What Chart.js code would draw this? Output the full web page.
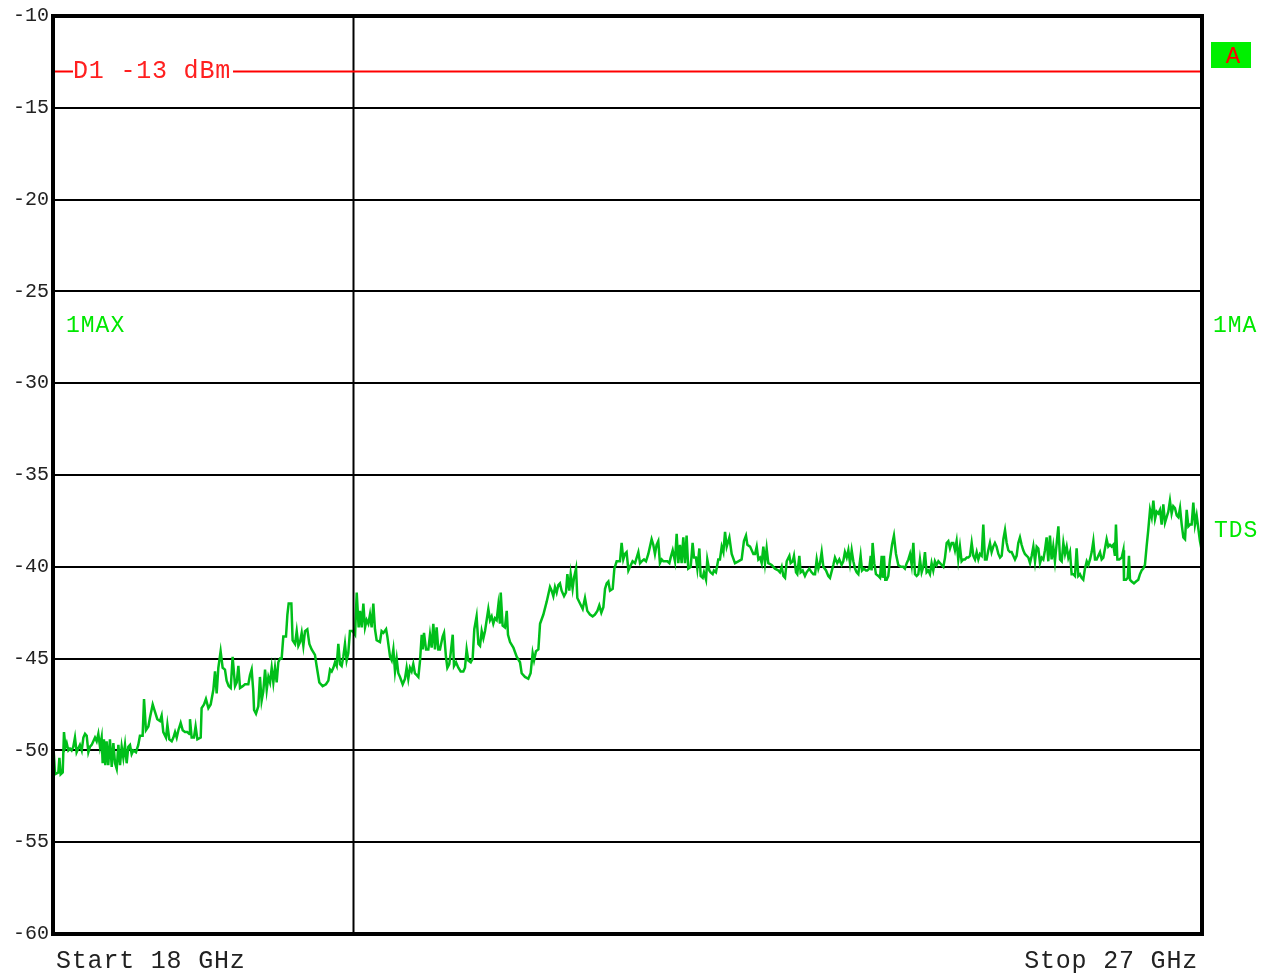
<!DOCTYPE html>
<html>
<head>
<meta charset="utf-8">
<script src="https://cdn.jsdelivr.net/npm/chart.js@4.4.1/dist/chart.umd.min.js"></script>
<style>
  html, body { margin: 0; padding: 0; background: #fff; }
  canvas { display: block; }
</style>
</head>
<body>
<canvas id="spectrum" width="1272" height="977"></canvas>
<script>
// sweep and level settings
const startGHz = 18;
const stopGHz = 27;
const levelTicks = [-60, -55, -50, -45, -40, -35, -30, -25, -20, -15, -10];
const d1Level = -13;
const cursorGHz = 20.35;

// texts on screen
const startLabel = 'Start 18 GHz';
const stopLabel = 'Stop 27 GHz';
const d1Label = 'D1 -13 dBm';
const traceLabelLeft = '1MAX';
const traceLabelRight = '1MA';
const detectorLabel = 'TDS';
const screenLabel = 'A';

// max hold trace (GHz / dBm)
const traceFreq = [
  18.000,18.016,18.042,18.050,18.060,18.076,18.086,18.097,18.107,18.120,
  18.133,18.146,18.159,18.172,18.185,18.198,18.211,18.225,18.238,18.251,
  18.264,18.277,18.290,18.303,18.316,18.329,18.342,18.355,18.368,18.381,
  18.389,18.399,18.410,18.420,18.433,18.446,18.460,18.473,18.486,18.499,
  18.512,18.525,18.538,18.551,18.564,18.577,18.590,18.603,18.616,18.629,
  18.650,18.668,18.681,18.702,18.713,18.728,18.747,18.760,18.781,18.799,
  18.817,18.838,18.851,18.864,18.885,18.896,18.911,18.930,18.943,18.956,
  18.969,18.982,19.000,19.016,19.034,19.052,19.068,19.073,19.086,19.104,
  19.117,19.131,19.157,19.164,19.183,19.198,19.217,19.235,19.256,19.269,
  19.282,19.295,19.313,19.329,19.347,19.360,19.376,19.392,19.407,19.426,
  19.439,19.452,19.465,19.486,19.504,19.530,19.543,19.556,19.569,19.575,
  19.590,19.608,19.621,19.634,19.647,19.661,19.674,19.687,19.700,19.713,
  19.726,19.739,19.752,19.765,19.778,19.791,19.804,19.825,19.836,19.846,
  19.867,19.877,19.896,19.909,19.922,19.935,19.948,19.961,19.974,19.992,
  20.008,20.026,20.052,20.065,20.086,20.112,20.138,20.157,20.170,20.183,
  20.196,20.209,20.222,20.235,20.248,20.261,20.274,20.287,20.300,20.313,
  20.326,20.347,20.366,20.379,20.394,20.405,20.418,20.431,20.444,20.457,
  20.470,20.483,20.496,20.509,20.522,20.535,20.561,20.574,20.588,20.609,
  20.619,20.640,20.653,20.666,20.679,20.692,20.705,20.718,20.739,20.757,
  20.770,20.783,20.796,20.809,20.822,20.835,20.849,20.862,20.875,20.888,
  20.896,20.906,20.922,20.940,20.953,20.966,20.979,20.992,21.005,21.018,
  21.031,21.052,21.063,21.078,21.089,21.104,21.115,21.131,21.141,21.157,
  21.175,21.193,21.214,21.227,21.240,21.253,21.272,21.287,21.300,21.318,
  21.332,21.345,21.358,21.371,21.384,21.397,21.410,21.423,21.436,21.449,
  21.462,21.475,21.488,21.501,21.507,21.522,21.540,21.554,21.564,21.580,
  21.606,21.632,21.658,21.671,21.697,21.723,21.741,21.757,21.768,21.783,
  21.802,21.815,21.841,21.867,21.893,21.906,21.919,21.932,21.945,21.958,
  21.971,21.984,22.003,22.018,22.029,22.044,22.055,22.070,22.081,22.097,
  22.107,22.128,22.149,22.167,22.185,22.206,22.227,22.245,22.264,22.279,
  22.295,22.311,22.324,22.337,22.350,22.363,22.384,22.397,22.415,22.441,
  22.454,22.467,22.480,22.493,22.507,22.520,22.540,22.559,22.585,22.598,
  22.611,22.629,22.645,22.663,22.676,22.689,22.702,22.715,22.728,22.741,
  22.754,22.768,22.781,22.794,22.812,22.828,22.838,22.854,22.872,22.885,
  22.898,22.911,22.924,22.937,22.950,22.963,22.976,22.995,23.010,23.021,
  23.036,23.047,23.063,23.073,23.089,23.099,23.115,23.125,23.141,23.151,
  23.167,23.177,23.193,23.211,23.224,23.238,23.251,23.264,23.277,23.298,
  23.316,23.342,23.368,23.394,23.412,23.428,23.439,23.460,23.486,23.499,
  23.512,23.525,23.538,23.551,23.564,23.577,23.590,23.603,23.629,23.655,
  23.681,23.694,23.708,23.721,23.734,23.747,23.768,23.778,23.794,23.804,
  23.820,23.830,23.846,23.856,23.872,23.890,23.903,23.924,23.942,23.956,
  23.969,23.982,23.995,24.008,24.021,24.034,24.055,24.073,
  24.086,24.112,24.125,24.143,24.159,24.177,24.190,24.203,24.217,24.230,
  24.243,24.256,24.269,24.282,24.295,24.308,24.326,24.337,24.352,24.368,
  24.378,24.394,24.405,24.412,24.420,24.433,24.446,24.465,24.478,24.491,
  24.499,24.509,24.519,24.530,24.543,24.556,24.572,24.587,24.603,24.621,
  24.640,24.660,24.673,24.687,24.700,24.713,24.726,24.739,24.752,24.765,
  24.778,24.791,24.804,24.817,24.830,24.843,24.856,24.869,24.882,24.895,
  24.908,24.921,24.935,24.948,24.961,24.974,24.987,25.000,25.013,25.026,
  25.039,25.052,25.065,25.078,25.091,25.104,25.117,25.130,25.143,25.157,
  25.170,25.183,25.196,25.209,25.222,25.235,25.248,25.261,25.274,25.287,
  25.300,25.313,25.326,25.339,25.352,25.365,25.378,25.391,25.405,25.418,
  25.431,25.444,25.457,25.470,25.483,25.496,25.509,25.522,25.535,25.548,
  25.561,25.574,25.587,25.600,25.613,25.627,25.640,25.653,25.666,25.679,
  25.692,25.705,25.718,25.731,25.744,25.757,25.770,25.783,25.796,25.809,
  25.822,25.835,25.848,25.862,25.875,25.888,25.901,25.914,25.927,25.940,
  25.953,25.966,25.979,25.992,26.005,26.018,26.031,26.044,26.057,26.070,
  26.083,26.097,26.110,26.123,26.136,26.149,26.162,26.175,26.188,26.201,
  26.214,26.227,26.240,26.253,26.266,26.279,26.292,26.305,26.318,26.326,
  26.337,26.352,26.371,26.384,26.389,26.405,26.418,26.428,26.436,26.449,
  26.467,26.483,26.501,26.514,26.527,26.540,26.553,26.566,26.579,26.593,
  26.606,26.619,26.632,26.645,26.658,26.671,26.684,26.697,26.710,26.723,
  26.736,26.749,26.762,26.775,26.788,26.802,26.815,26.828,26.841,26.854,
  26.867,26.880,26.893,26.906,26.919,26.932,26.945,26.958,26.971,26.984,
  27.000
];
const traceLevel = [
  -49.4,-51.3,-51.2,-50.4,-51.3,-51.2,-49.0,-49.8,-49.6,-50.0,
  -49.9,-50.0,-49.8,-49.3,-50.1,-49.9,-49.7,-50.0,-49.3,-49.1,
  -49.2,-50.1,-49.8,-49.7,-49.5,-49.3,-49.5,-49.1,-49.8,-49.3,
  -50.7,-49.4,-50.8,-49.5,-50.8,-49.4,-50.9,-49.6,-50.7,-51.0,
  -49.7,-50.8,-49.8,-50.4,-49.7,-50.7,-49.8,-49.7,-50.2,-50.0,
  -50.1,-49.7,-49.2,-49.2,-47.2,-48.9,-48.7,-48.2,-47.5,-47.9,
  -48.3,-48.4,-48.1,-49.0,-49.3,-48.6,-49.4,-49.5,-49.3,-49.0,
  -49.3,-48.9,-48.5,-48.9,-49.0,-49.0,-49.1,-48.3,-49.3,-49.3,
  -48.7,-49.4,-49.3,-47.7,-47.5,-47.2,-47.7,-47.5,-46.7,-45.7,
  -46.9,-45.5,-44.6,-45.5,-45.6,-46.2,-46.5,-46.6,-44.9,-46.5,
  -46.3,-45.4,-46.6,-46.5,-46.4,-46.4,-45.9,-45.6,-46.8,-47.8,
  -48.0,-47.6,-46.0,-47.3,-46.8,-45.6,-46.7,-46.0,-46.3,-45.5,
  -46.3,-45.5,-46.3,-45.2,-45.0,-45.0,-43.8,-43.8,-42.6,-42.0,
  -42.0,-44.0,-44.2,-43.5,-44.3,-44.1,-43.6,-44.3,-43.5,-43.4,
  -44.2,-44.5,-44.8,-45.4,-46.3,-46.5,-46.4,-46.2,-45.6,-45.7,
  -45.5,-45.2,-45.4,-44.2,-45.3,-45.4,-44.9,-44.2,-45.1,-44.7,
  -43.5,-43.5,-43.7,-41.4,-43.3,-42.4,-43.3,-42.0,-43.3,-42.9,
  -43.1,-42.6,-43.3,-42.0,-43.4,-44.0,-44.1,-43.5,-43.6,-43.4,
  -43.8,-44.9,-45.1,-44.5,-45.7,-45.0,-45.8,-46.0,-46.4,-46.1,
  -45.5,-46.1,-45.5,-45.7,-45.3,-45.8,-45.9,-46.0,-45.1,-43.7,
  -44.5,-43.6,-44.5,-44.5,-43.7,-44.4,-43.1,-44.5,-43.3,-44.5,
  -44.5,-43.8,-43.6,-44.9,-45.5,-45.3,-44.7,-43.7,-45.4,-45.2,
  -45.5,-45.7,-45.7,-45.5,-44.5,-45.1,-45.2,-45.0,-43.4,-42.7,
  -44.2,-44.3,-43.5,-43.9,-43.5,-42.9,-42.3,-42.9,-42.7,-43.1,
  -42.8,-42.9,-42.1,-43.1,-41.4,-43.2,-43.3,-42.4,-43.7,-44.1,
  -44.4,-44.9,-45.2,-45.8,-46.0,-46.1,-45.8,-44.7,-45.1,-44.6,
  -44.5,-43.1,-42.6,-41.9,-41.1,-41.3,-41.6,-41.1,-41.4,-41.0,
  -40.9,-41.3,-41.6,-41.4,-40.4,-41.3,-40.4,-41.2,-40.6,-40.1,
  -41.7,-42.0,-42.3,-41.7,-42.4,-42.6,-42.7,-42.6,-42.4,-42.1,
  -42.5,-42.2,-41.2,-40.9,-40.8,-41.3,-41.2,-40.1,-39.7,-39.7,
  -38.7,-39.6,-39.3,-39.2,-40.2,-40.0,-39.7,-39.8,-39.2,-39.8,
  -39.7,-39.6,-39.7,-39.3,-38.9,-38.5,-38.8,-39.3,-38.8,-38.6,
  -39.8,-39.6,-39.7,-39.7,-39.7,-39.8,-39.5,-39.1,-39.7,-38.2,
  -39.8,-38.8,-39.8,-38.4,-39.8,-38.3,-40.1,-40.0,-38.7,-39.5,
  -39.5,-40.1,-39.0,-40.5,-40.6,-40.3,-40.7,-39.6,-40.2,-40.3,
  -40.4,-40.2,-40.3,-39.6,-39.6,-38.9,-39.2,-38.1,-38.9,-38.4,
  -39.3,-39.8,-39.7,-39.6,-38.6,-38.3,-38.8,-38.9,-39.3,-39.3,
  -38.9,-39.6,-39.5,-39.8,-38.9,-39.8,-39.0,-39.8,-39.9,-40.1,
  -40.2,-40.3,-40.0,-40.5,-40.6,-39.7,-39.4,-39.8,-39.7,-39.4,
  -40.3,-40.4,-39.4,-40.3,-40.2,-40.5,-40.3,-40.1,-40.3,-40.4,
  -40.4,-39.6,-40.1,-39.8,-39.2,-40.0,-40.2,-40.5,
  -40.6,-39.9,-39.5,-39.8,-39.6,-39.9,-39.7,-39.2,-39.5,-39.1,
  -39.8,-39.1,-39.7,-40.1,-40.3,-40.4,-39.4,-40.2,-40.1,-40.2,
  -40.2,-40.1,-39.4,-40.2,-38.7,-39.8,-40.4,-40.5,-40.6,-39.4,
  -40.6,-39.4,-40.7,-40.7,-40.5,-39.6,-38.8,-38.3,-39.3,-39.9,
  -40.0,-40.0,-40.1,-39.8,-39.6,-39.3,-39.9,-38.7,-40.4,-40.5,
  -40.4,-39.6,-40.3,-40.0,-39.2,-40.3,-40.2,-40.4,-39.8,-40.2,
  -39.7,-39.9,-39.7,-39.8,-39.9,-40.0,-39.5,-38.7,-38.6,-39.0,
  -38.7,-38.7,-39.1,-38.6,-39.6,-38.9,-39.7,-39.6,-39.6,-39.5,
  -39.5,-39.4,-38.7,-39.4,-39.6,-39.2,-39.6,-39.3,-39.4,-37.7,
  -39.6,-39.6,-39.1,-38.7,-39.2,-38.9,-38.7,-38.9,-39.3,-39.5,
  -39.4,-38.5,-38.0,-38.7,-39.1,-39.2,-39.2,-39.4,-39.6,-39.4,
  -38.7,-38.4,-38.8,-39.1,-39.3,-39.4,-39.5,-39.8,-39.4,-38.9,
  -39.7,-38.9,-39.0,-39.8,-39.5,-39.6,-39.1,-38.4,-39.7,-38.3,
  -39.6,-38.9,-39.7,-38.7,-37.8,-39.6,-39.7,-38.7,-39.3,-38.9,
  -39.5,-39.2,-40.4,-40.4,-40.5,-39.0,-40.5,-40.4,-40.6,-40.7,
  -40.1,-39.7,-39.9,-39.6,-39.2,-38.6,-39.6,-39.6,-39.4,-39.2,
  -39.6,-39.5,-39.0,-38.5,-38.9,-38.8,-38.9,-38.8,-39.4,-37.7,
  -39.6,-39.6,-39.5,-39.1,-40.7,-40.7,-40.6,-39.4,-40.7,-40.8,
  -40.9,-40.8,-40.7,-40.4,-40.2,-40.1,-39.9,-38.9,-38.0,-36.9,
  -37.3,-36.4,-37.4,-37.0,-37.1,-36.9,-37.7,-36.6,-37.6,-37.3,
  -37.0,-36.4,-37.1,-36.7,-36.8,-37.2,-37.3,-36.8,-37.7,-38.4,
  -38.5,-36.9,-37.8,-37.7,-37.7,-36.5,-37.7,-37.2,-37.9,-38.6,
  -39.2
];

const monoFont = '"Liberation Mono", "DejaVu Sans Mono", monospace';

const tracePoints = traceFreq.map((f, i) => ({ x: f, y: traceLevel[i] }));
if (traceFreq.length !== traceLevel.length) {
  console.warn('trace arrays differ', traceFreq.length, traceLevel.length);
}

// frame, cursor line, display line D1 and annotation texts
const screenOverlay = {
  id: 'screenOverlay',
  afterDatasetsDraw(chart) {
    const { ctx, chartArea: area, scales } = chart;
    const xs = scales.x, ys = scales.y;
    ctx.save();

    // vertical cursor
    const cx = Math.round(xs.getPixelForValue(cursorGHz)) + 0.5;
    ctx.strokeStyle = '#000';
    ctx.lineWidth = 2;
    ctx.beginPath();
    ctx.moveTo(cx, area.top);
    ctx.lineTo(cx, area.bottom);
    ctx.stroke();

    // display line D1
    const dy = Math.round(ys.getPixelForValue(d1Level)) + 0.5;
    ctx.font = '25px ' + monoFont;
    ctx.letterSpacing = '0.8px';
    const tx = area.left + 20;
    const tw = ctx.measureText(d1Label).width;
    ctx.strokeStyle = '#ff0000';
    ctx.lineWidth = 2;
    ctx.beginPath();
    ctx.moveTo(area.left, dy);
    ctx.lineTo(tx, dy);
    ctx.moveTo(tx + tw + 2, dy);
    ctx.lineTo(area.right, dy);
    ctx.stroke();
    ctx.fillStyle = '#ff2020';
    ctx.textBaseline = 'alphabetic';
    ctx.fillText(d1Label, tx, dy + 6);

    // frame
    ctx.strokeStyle = '#000';
    ctx.lineWidth = 4;
    ctx.strokeRect(area.left, area.top, area.right - area.left, area.bottom - area.top);

    // start / stop
    ctx.fillStyle = '#222';
    ctx.textAlign = 'left';
    ctx.fillText(startLabel, area.left + 3, 968);
    ctx.textAlign = 'right';
    ctx.fillText(stopLabel, area.right - 4, 968);

    // trace and detector info
    ctx.font = '23px ' + monoFont;
    ctx.letterSpacing = '1px';
    ctx.fillStyle = '#00e800';
    ctx.textAlign = 'left';
    ctx.fillText(traceLabelLeft, area.left + 13, 332);
    ctx.fillText(traceLabelRight, area.right + 11, 332);
    ctx.fillText(detectorLabel, area.right + 12, 537);

    // screen A marker
    ctx.fillStyle = '#00f000';
    ctx.fillRect(area.right + 9, 42, 40, 26);
    ctx.font = '24px ' + monoFont;
    ctx.letterSpacing = '0px';
    ctx.fillStyle = '#ff0000';
    ctx.textAlign = 'center';
    ctx.fillText(screenLabel, area.right + 31, 63);

    ctx.restore();
  }
};

new Chart(document.getElementById('spectrum'), {
  type: 'line',
  data: {
    datasets: [{
      data: tracePoints,
      borderColor: '#00bf1a',
      borderWidth: 2.5,
      pointRadius: 0,
      tension: 0,
      fill: false
    }]
  },
  options: {
    responsive: false,
    animation: false,
    events: [],
    layout: { padding: { top: 15, right: 70, bottom: 43, left: 0 } },
    plugins: {
      legend: { display: false },
      tooltip: { enabled: false }
    },
    scales: {
      x: {
        type: 'linear',
        min: startGHz,
        max: stopGHz,
        display: false
      },
      y: {
        type: 'linear',
        min: levelTicks[0],
        max: levelTicks[levelTicks.length - 1],
        afterFit: (scale) => { scale.width = 53; },
        afterBuildTicks: (scale) => { scale.ticks = levelTicks.map(v => ({ value: v })); },
        ticks: {
          color: '#222',
          padding: 4,
          font: { family: monoFont, size: 20 },
          callback: (v) => String(v)
        },
        grid: {
          color: '#000',
          lineWidth: 2,
          drawTicks: false
        },
        border: { display: false }
      }
    }
  },
  plugins: [screenOverlay]
});
</script>
</body>
</html>
